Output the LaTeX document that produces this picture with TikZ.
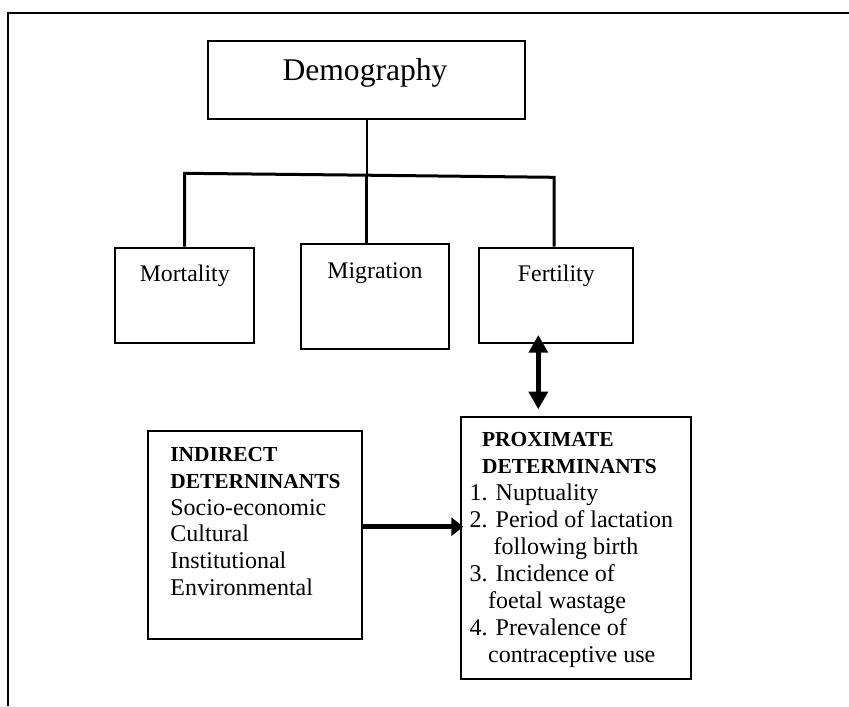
\documentclass[tikz,border=0pt]{standalone}
\usepackage{fontspec}
\setmainfont{Liberation Serif}
\usetikzlibrary{arrows.meta}
\tikzset{
  box/.style={draw, line width=1pt, rectangle, inner sep=0pt},
  frameline/.style={line width=0.9pt},
  tree/.style={line width=1.5pt, line join=miter},
  stem/.style={line width=1pt},
  ctxt/.style={inner sep=0pt, anchor=base, font=\fontsize{11.9}{13}\selectfont},
  ltxt/.style={inner sep=0pt, anchor=base west, font=\fontsize{12}{13}\selectfont},
  btxt/.style={inner sep=0pt, anchor=base west, font=\fontsize{10.7}{12}\selectfont\bfseries},
  dblarrow/.style={line width=2.3pt, {Triangle[length=8.8pt,width=9.3pt]}-{Triangle[length=8.8pt,width=9.3pt]}},
  harrow/.style={line width=2.6pt, -{Triangle[length=6pt,width=9pt]}}
}
\begin{document}
\begin{tikzpicture}[x=0.5pt,y=-0.5pt]
\useasboundingbox (0,0) rectangle (849,706);
% frame
\coordinate (frTR) at (849,13);
\coordinate (frTL) at (8.3,13);
\coordinate (frBL) at (8.3,706);
\draw[frameline] (frTR) -- (frTL) -- (frBL);

% boxes
\node[box, minimum width=158.7pt, minimum height=39.2pt] (demo) at (366.4,79.8) {};
\node[box, minimum width=69.7pt, minimum height=47.5pt] (mort) at (184.7,295.2) {};
\node[box, minimum width=74.3pt, minimum height=52.3pt] (migr) at (375,296.7) {};
\node[box, minimum width=77pt, minimum height=47.5pt] (fert) at (556.3,295.2) {};
\node[box, minimum width=107pt, minimum height=104pt] (ind) at (255.3,535) {};
\node[box, minimum width=115pt, minimum height=131pt] (prox) at (575.7,547.7) {};

% box titles
\node[inner sep=0pt, anchor=base, font=\fontsize{15.8}{18}\selectfont] (demotxt) at (365,81) {Demography};
\node[ctxt] (morttxt) at (184.7,281) {Mortality};
\node[ctxt] (migrtxt) at (375,278.3) {Migration};
\node[ctxt] (ferttxt) at (556.3,281) {Fertility};

% indirect determinants text
\node[btxt] (ind1) at (170,461.7) {INDIRECT};
\node[btxt] (ind2) at (170,488.3) {DETERNINANTS};
\node[ltxt] (ind3) at (170,515) {Socio-economic};
\node[ltxt] (ind4) at (170,541.6) {Cultural};
\node[ltxt] (ind5) at (170,568.3) {Institutional};
\node[ltxt] (ind6) at (170,595) {Environmental};

% proximate determinants text
\node[btxt] (prx1) at (481.7,446.7) {PROXIMATE};
\node[btxt] (prx2) at (481.7,473.7) {DETERMINANTS};
\node[ltxt] (prx3) at (469.3,500.7) {1. Nuptuality};
\node[ltxt] (prx4) at (469.3,527.7) {2. Period of lactation};
\node[ltxt] (prx5) at (493.3,554.7) {following birth};
\node[ltxt] (prx6) at (469.3,581.7) {3. Incidence of};
\node[ltxt] (prx7) at (487.7,608.7) {foetal wastage};
\node[ltxt] (prx8) at (469.3,635.7) {4. Prevalence of};
\node[ltxt] (prx9) at (487.7,662.7) {contraceptive use};

% tree connectors
\coordinate (jl) at (184.7,173.3);
\coordinate (jm) at (366.7,175.2);
\coordinate (jr) at (554,177.3);
\draw[stem] (demo.south -| jm) -- (jm);
\draw[tree] (jl |- mort.north) -- (jl) -- (jm) -- (jr) -- (jr |- fert.north);
\draw[tree] (jm) -- (jm |- migr.north);

% arrows
\coordinate (a1) at (538.3,335);
\coordinate (a2) at (538.3,409.3);
\draw[dblarrow] (a1) -- (a2);
\coordinate (h2) at (463.3,526.7);
\draw[harrow] (ind.east |- h2) -- (h2);
\end{tikzpicture}
\end{document}
